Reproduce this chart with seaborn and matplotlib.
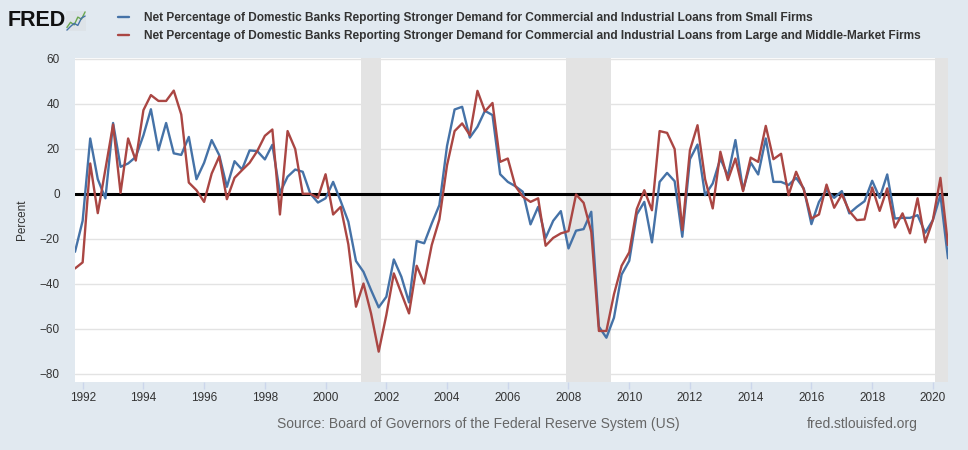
import pandas as pd
import matplotlib
matplotlib.use("Agg")
import matplotlib.pyplot as plt
import matplotlib.dates as mdates
import seaborn as sns

# quarterly observations, first one is 1991-10-01
FIRST_QUARTER = "1991-10-01"

SMALL_FIRMS = [
    -25.8, -12.0, 24.6, 6.5, -2.0, 31.5, 12.0, 13.5, 16.4, 26.0,
    37.6, 19.4, 31.5, 18.0, 17.3, 25.3, 6.5, 13.8, 23.9, 17.2,
    3.1, 14.5, 10.8, 19.3, 19.0, 15.3, 21.8, 0.4, 7.6, 10.8,
    9.8, 0.1, -3.9, -2.0, 5.3, -3.3, -12.4, -29.9, -34.7, -42.8,
    -50.5, -45.8, -29.2, -36.9, -48.3, -21.0, -22.0, -13.2, -5.0, 21.3,
    37.5, 38.7, 25.0, 29.8, 36.9, 35.0, 8.7, 5.3, 3.4, 0.9,
    -13.6, -5.8, -19.6, -12.0, -7.7, -24.3, -16.4, -15.7, -8.0, -59.1,
    -64.0, -55.1, -35.9, -29.8, -9.2, -3.6, -21.6, 5.3, 9.3, 5.6,
    -19.1, 15.4, 21.9, -0.6, 4.6, 15.7, 7.9, 23.9, 1.6, 13.9,
    8.6, 24.6, 5.3, 5.3, 3.9, 7.1, 2.4, -13.5, -3.6, 1.6,
    -1.8, 1.2, -8.7, -5.8, -3.3, 5.8, -1.8, 8.6, -11.0, -10.7,
    -10.7, -9.5, -17.3, -11.7, -0.6, -28.7,
]

LARGE_FIRMS = [
    -33.2, -30.5, 13.5, -8.6, 11.0, 30.8, 0.4, 24.6, 14.8, 37.2,
    43.9, 41.3, 41.3, 45.9, 35.3, 5.0, 1.6, -3.6, 9.0, 16.6,
    -2.4, 7.1, 10.5, 13.8, 19.0, 25.8, 28.6, -9.2, 27.9, 19.9,
    0.0, 0.0, -1.8, 8.7, -9.2, -5.8, -22.5, -50.2, -39.9, -53.2,
    -70.2, -53.9, -35.4, -44.3, -53.2, -32.0, -39.9, -22.8, -11.4, 12.7,
    27.9, 31.3, 26.1, 45.8, 36.7, 40.4, 14.2, 15.7, 3.5, -1.3,
    -3.6, -2.0, -23.1, -19.6, -17.6, -16.6, -0.3, -4.0, -16.9, -61.0,
    -61.0, -44.7, -32.0, -26.0, -6.8, 1.6, -7.3, 27.9, 27.1, 19.9,
    -16.1, 19.4, 30.5, 6.5, -6.5, 18.7, 6.1, 15.7, 1.2, 16.1,
    14.2, 30.2, 15.4, 17.8, -0.6, 9.8, 1.9, -11.0, -9.2, 4.1,
    -6.2, -0.3, -7.7, -11.7, -11.4, 2.8, -7.6, 2.4, -15.0, -8.7,
    -17.6, -2.0, -21.6, -11.7, 7.1, -22.8,
]

SERIES_NAMES = [
    "Net Percentage of Domestic Banks Reporting Stronger Demand for Commercial and Industrial Loans from Small Firms",
    "Net Percentage of Domestic Banks Reporting Stronger Demand for Commercial and Industrial Loans from Large and Middle-Market Firms",
]

RECESSIONS = [
    ("2001-03-01", "2001-11-01"),
    ("2007-12-01", "2009-06-01"),
    ("2020-02-01", "2020-07-01"),
]

YEAR_TICKS = list(range(1992, 2021, 2))
Y_TICKS = list(range(-80, 61, 20))

BLUE = "#4572a7"
RED = "#aa4643"
BG = "#e1e9f0"

sns.set_theme(style="white")
plt.rcParams["font.family"] = ["Liberation Sans", "DejaVu Sans"]

dates = pd.date_range(FIRST_QUARTER, periods=len(SMALL_FIRMS), freq="QS")
df = pd.concat([
    pd.DataFrame({"date": dates, "value": SMALL_FIRMS, "series": SERIES_NAMES[0]}),
    pd.DataFrame({"date": dates, "value": LARGE_FIRMS, "series": SERIES_NAMES[1]}),
])

fig = plt.figure(figsize=(9.68, 4.5), dpi=100, facecolor=BG)
ax = fig.add_axes([75 / 968, 1 - 382 / 450, 873 / 968, 324 / 450])
ax.set_facecolor("white")

for start, end in RECESSIONS:
    ax.axvspan(pd.Timestamp(start), pd.Timestamp(end), color="#e3e3e3", lw=0, zorder=0)

for y in Y_TICKS:
    ax.axhline(y, color="#e3e3e3", lw=1, zorder=0.5)
ax.axhline(0, color="black", lw=2.2, zorder=3)

sns.lineplot(data=df, x="date", y="value", hue="series", palette=[BLUE, RED],
             linewidth=1.7, legend=False, ax=ax, zorder=4)

ax.set_xlim(dates[0], dates[-1])
ax.set_ylim(-83.7, 60.4)
ax.set_yticks(Y_TICKS)
ax.set_xticks([pd.Timestamp(f"{y}-01-01") for y in YEAR_TICKS])
ax.xaxis.set_major_formatter(mdates.DateFormatter("%Y"))
ax.tick_params(axis="y", length=0, pad=11, labelsize=8.5, labelcolor="#333333")
ax.tick_params(axis="x", length=5, width=1, color="#ccd6eb", pad=2, labelsize=8.5,
               labelcolor="#333333", bottom=True)
for s in ax.spines.values():
    s.set_visible(False)
ax.set_xlabel("")
ax.set_ylabel("Percent", fontsize=8.5, color="#333333", labelpad=8)

# header: logo + legend
fig.text(8 / 968, 1 - 20 / 450, "FRED", fontsize=15.5, fontweight="bold", color="#111111",
         va="center", ha="left")
logo = fig.add_axes([66 / 968, 1 - 31 / 450, 20 / 968, 20 / 450])
logo.set_facecolor("#dde3e8")
logo.plot([0, 1, 2, 3, 4, 5], [1, 2, 1.5, 3, 2.6, 4], color="#6aa84f", lw=1)
logo.plot([0, 1, 2, 3, 4, 5], [0.5, 1.2, 1.8, 1.4, 2.8, 3.2], color="#4572a7", lw=1)
logo.set_xticks([])
logo.set_yticks([])
for s in logo.spines.values():
    s.set_visible(False)

handles = ax.get_lines()[-2:]
fig.legend(handles, SERIES_NAMES, loc="upper left", bbox_to_anchor=(118 / 968, 1 - 12.5 / 450),
           frameon=False, handlelength=0.9, handletextpad=1.3,
           labelspacing=0.45, borderaxespad=0, borderpad=0,
           prop={"weight": "bold", "size": 8.55})
for t in fig.legends[0].get_texts():
    t.set_color("#333333")

fig.text(478 / 968, 1 - 424 / 450, "Source: Board of Governors of the Federal Reserve System (US)",
         fontsize=10, color="#666666", ha="center", va="center")
fig.text(862 / 968, 1 - 424 / 450, "fred.stlouisfed.org", fontsize=10, color="#666666",
         ha="center", va="center")

fig.savefig("out.png", dpi=100, facecolor=BG)
